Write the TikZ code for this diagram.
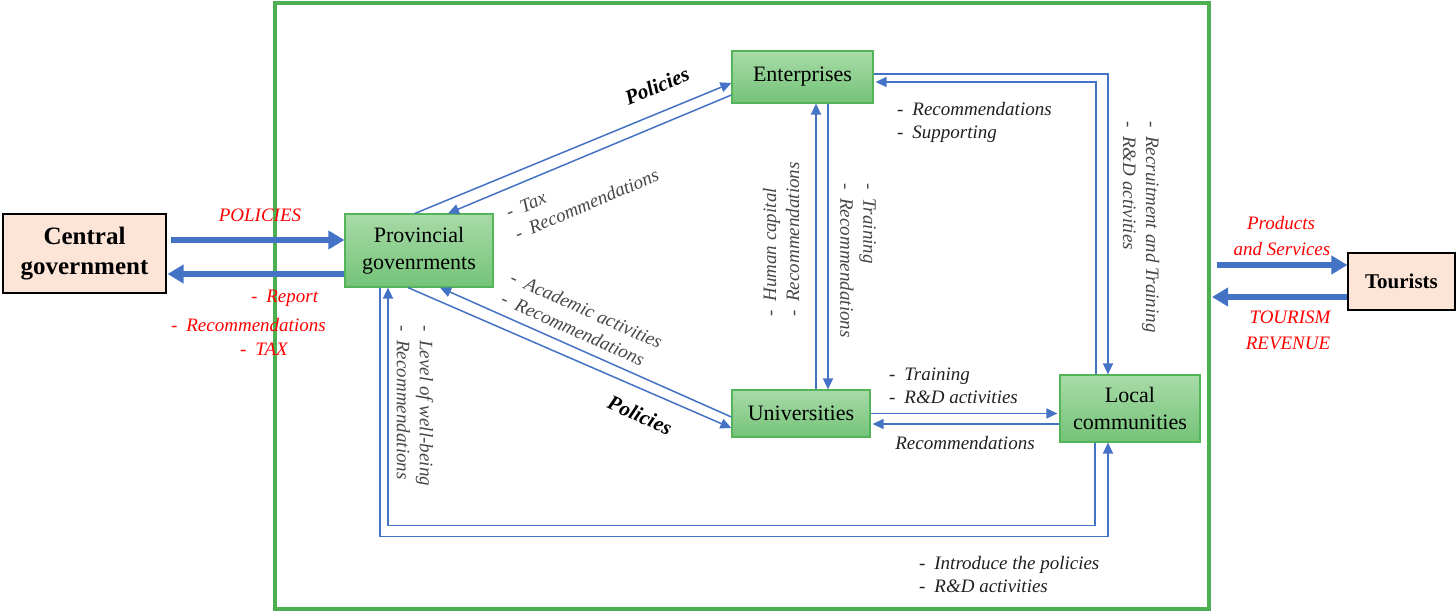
\documentclass[tikz,border=0pt]{standalone}
\usepackage{fontspec}
\setmainfont{Liberation Serif}
\usetikzlibrary{arrows.meta}

\definecolor{framegreen}{RGB}{76,175,80}
\definecolor{boxtop}{RGB}{168,219,168}
\definecolor{boxbot}{RGB}{116,195,120}
\definecolor{boxline}{RGB}{84,180,90}
\definecolor{peach}{RGB}{252,228,214}
\definecolor{flowblue}{RGB}{68,114,196}
\definecolor{labelred}{RGB}{255,0,0}
\definecolor{labelgray}{RGB}{70,70,70}

% list item: a dash followed by its text
\newcommand\li[1]{\makebox[0.8em][l]{-}#1}

\begin{document}
\begin{tikzpicture}[x=1pt,y=-1pt,
  actor/.style={draw=black, line width=1.2pt, fill=peach, inner sep=0pt,
    align=center, font=\fontsize{25}{30}\selectfont\bfseries},
  stake/.style={draw=boxline, line width=1.2pt, top color=boxtop,
    bottom color=boxbot, inner sep=0pt, align=center,
    font=\fontsize{22}{27}\selectfont},
  flow/.style={draw=flowblue, line width=1.5pt,
    -{Triangle[length=11pt,width=10pt]}},
  bigflow/.style={draw=flowblue, line width=6pt,
    -{Triangle[length=16pt,width=18pt]}},
  note/.style={inner sep=0pt, align=left, text=black!88,
    font=\fontsize{19}{23}\selectfont\itshape},
  tilted/.style={note, text=labelgray},
  rednote/.style={inner sep=0pt, text=labelred,
    font=\fontsize{19}{24}\selectfont\itshape},
  policy/.style={inner sep=0pt, font=\fontsize{21}{24}\selectfont\bfseries\itshape},
]
\useasboundingbox (0,0) rectangle (1456,613);

% province boundary
\draw[framegreen, line width=4pt] (275,3) rectangle (1209,609);

% actors outside and inside the province
\node[actor, minimum width=163pt, minimum height=79pt] (cg) at (84.5,253.5) {Central\\government};
\node[actor, minimum width=107pt, minimum height=57pt,
  font=\fontsize{21}{25}\selectfont\bfseries] (tour) at (1401.5,281.5) {Tourists};
\node[stake, minimum width=148pt, minimum height=73pt] (prov) at (419,250.5) {Provincial\\govenrments};
\node[stake, minimum width=141pt, minimum height=52pt] (ent) at (802.5,77) {Enterprises};
\node[stake, minimum width=138pt, minimum height=47pt] (uni) at (801,413.5) {Universities};
\node[stake, minimum width=140pt, minimum height=67pt] (loc) at (1130,408.5) {Local\\communities};

% central government <-> provincial governments
\draw[bigflow] ([xshift=4pt,yshift=13.5pt]cg.east) coordinate (c2p) -- (c2p -| prov.west);
\draw[bigflow] ([yshift=-23.5pt]prov.west) coordinate (p2c) -- ([xshift=1pt]p2c -| cg.east);

% provincial governments <-> enterprises
\draw[flow] ([xshift=-4pt]prov.north) -- ([yshift=-6pt]ent.west);
\draw[flow] ([yshift=-18pt]ent.west) -- ([xshift=29pt]prov.north);

% provincial governments <-> universities
\draw[flow] ([xshift=-11pt]prov.south) -- ([yshift=-14.5pt]uni.west);
\draw[flow] ([yshift=-3.5pt]uni.west) -- ([xshift=21pt]prov.south);

% enterprises <-> universities
\draw[flow] ([xshift=25.5pt]ent.south) coordinate (e2u) -- (e2u |- uni.north);
\coordinate (u2e) at ([xshift=13.5pt]ent.south);
\draw[flow] (u2e |- uni.north) -- (u2e);

% enterprises <-> local communities
\draw[flow] ([yshift=3pt]ent.east) -| ([xshift=-22pt]loc.north);
\draw[flow] ([xshift=-34pt]loc.north) |- ([xshift=2pt,yshift=-5pt]ent.east);

% universities <-> local communities
\draw[flow] (uni.east) -- ([xshift=-2pt]uni.east -| loc.west);
\coordinate (l2u) at ([yshift=-10.5pt]uni.east);
\draw[flow] (l2u -| loc.west) -- ([xshift=2pt]l2u);

% provincial governments <-> local communities
\draw[flow] ([xshift=-39pt]prov.south) -- ++(0,249) -| ([xshift=-22pt]loc.south);
\draw[flow] ([xshift=-35pt]loc.south) -- ++(0,83) -| ([xshift=-31pt]prov.south);

% local communities <-> tourists
\coordinate (ps) at (1217,265);
\draw[bigflow] (ps) -- (ps -| tour.west);
\coordinate (tr) at (1212,297);
\draw[bigflow] ([yshift=-15.5pt]tour.west) -- (tr);

% red labels on the outer flows
\node[rednote] (lpol) at (260,215) {POLICIES};
\node[rednote, anchor=west] (lrep) at (251,298) {\li{Report}};
\node[rednote, anchor=west] (lrec) at (171,325) {\li{Recommendations}};
\node[rednote, anchor=west] (ltax) at (240,349) {\li{TAX}};
\node[rednote] (lprod) at (1281,223) {Products};
\node[rednote] (lserv) at (1282,249) {and Services};
\node[rednote] (ltour) at (1290,317) {TOURISM};
\node[rednote] (lrev) at (1288,343) {REVENUE};

% labels on the inner flows
\node[policy, rotate=23] (lpolup) at (657,86) {Policies};
\node[policy, rotate=-24] (lpoldn) at (640,415) {Policies};
\node[tilted, anchor=west, rotate=23] (ltaxrec) at (511,224) {\li{Tax}\\\li{Recommendations}};
\node[tilted, anchor=west, rotate=-24] (lacad) at (507,287) {\li{Academic activities}\\\li{Recommendations}};
\node[tilted, anchor=west, rotate=-90] (lwell) at (415,325) {\li{Level of well-being}\\\li{Recommendations}};
\node[tilted, anchor=west, rotate=90] (lhum) at (781,317) {\li{Human capital}\\\li{Recommendations}};
\node[tilted, anchor=west, rotate=-90] (ltrain) at (858,183) {\li{Training}\\\li{Recommendations}};
\node[tilted, anchor=west, rotate=-90] (lrecr) at (1141,121) {\li{Recruitment and Training}\\\li{R\&D activities}};
\node[note, anchor=west] (lsup) at (897,122) {\li{Recommendations}\\\li{Supporting}};
\node[note, anchor=west] (lrd) at (889,386) {\li{Training}\\\li{R\&D activities}};
\node[note] (lurec) at (965,443) {Recommendations};
\node[note, anchor=west] (lintro) at (919,574) {\li{Introduce the policies}\\\li{R\&D activities}};
\end{tikzpicture}
\end{document}
